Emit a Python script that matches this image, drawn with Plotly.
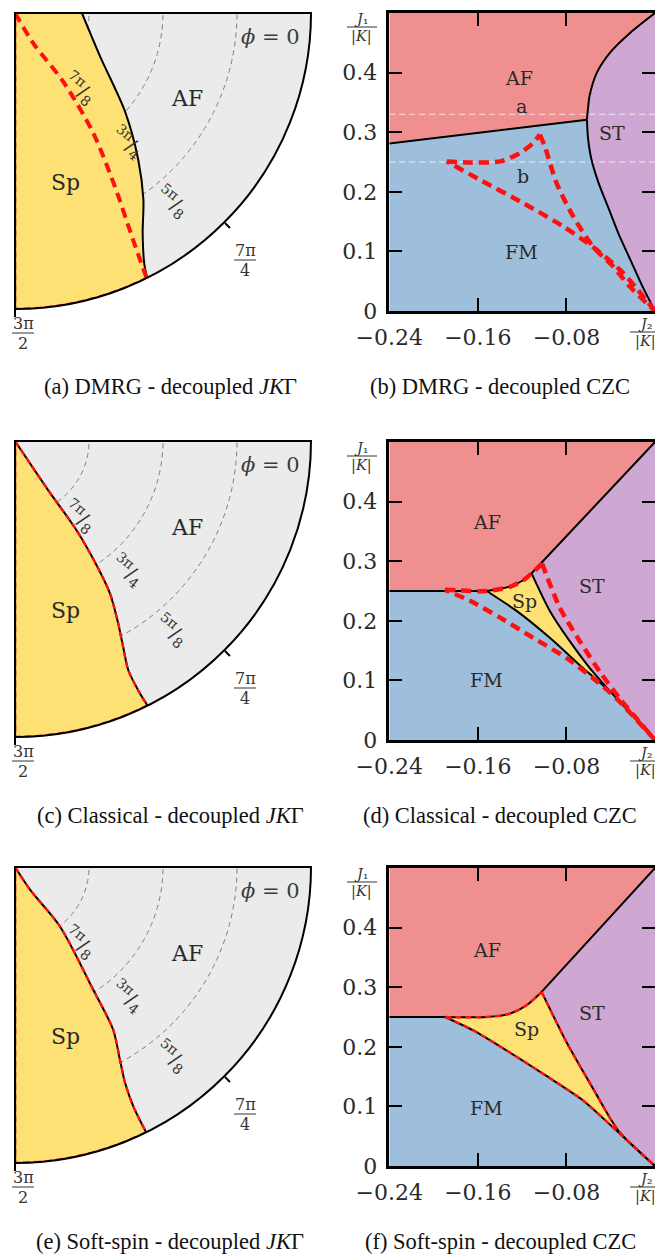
import numpy as np
import plotly.graph_objects as go

# page offset of the plot div (browser body margin) and figure size
OX, OY = 8, 8
W, H = 655, 1247

# ---------------- colours ----------------
AF_C = "#f08f8f"
FM_C = "#9dbfdc"
ST_C = "#cea8d2"
SP_C = "#fde174"
BG_C = "#ebebeb"
RED = "#ff1010"
TXT = "#2a2a2a"
SERIF = "DejaVu Serif"
CAPF = "Liberation Serif"

# ---------------- data: left column (polar) ----------------
# phi in degrees (270 = 3pi/2 ... 360 = 0), theta in units of pi (1 = centre, 1/2 = outer arc)
A_SP_PHI = [360, 332.8, 318.1, 310.0, 304.5, 300.1, 297.3, 296.5]
A_SP_TH = [0.887, 0.838, 0.750, 0.676, 0.617, 0.570, 0.524, 0.5]
A_RED_PHI = [301.0, 301.1, 305.1, 303.1, 299.9, 297.5, 296.4]
A_RED_TH = [1.0, 0.94, 0.858, 0.758, 0.661, 0.568, 0.5]

C_SP_PHI = [305.0, 304.0, 304.6, 303.3, 301.9, 299.5, 297.7, 296.3, 296.3, 296.6]
C_SP_TH = [1.0, 0.90, 0.817, 0.749, 0.696, 0.646, 0.607, 0.568, 0.53, 0.5]

E_SP_PHI = [303.5, 303.5, 307.1, 302.5, 301.1, 298.6, 297.0, 296.3, 296.3]
E_SP_TH = [1.0, 0.954, 0.874, 0.754, 0.679, 0.63, 0.59, 0.549, 0.5]

GRID_TH = [7 / 8, 3 / 4, 5 / 8]
GRID_LAB = ["7π", "3π", "5π"]
GRID_DEN = ["8", "4", "8"]
ANG_TICKS = [270, 315]

# ---------------- data: right column (J2/|K|, J1/|K|) ----------------
# (b) DMRG
B_AFFM_X = [-0.24, -0.0615]
B_AFFM_Y = [0.281, 0.321]
B_STU_X = [-0.0615, -0.0605, -0.0591, -0.0525, -0.0404, -0.0223, 0.0]
B_STU_Y = [0.321, 0.340, 0.361, 0.400, 0.434, 0.467, 0.5]
B_STL_X = [-0.0615, -0.0605, -0.0575, -0.051, -0.0425, -0.033, -0.022, -0.011, 0.0]
B_STL_Y = [0.321, 0.29, 0.255, 0.215, 0.175, 0.13, 0.085, 0.04, 0.0]
B_RT_X = [-0.188, -0.167, -0.140, -0.122, -0.110, -0.104]
B_RT_Y = [0.251, 0.249, 0.251, 0.265, 0.282, 0.296]
B_RR_X = [-0.104, -0.0995, -0.089, -0.074, -0.056, -0.038, -0.0228, 0.0]
B_RR_Y = [0.296, 0.276, 0.215, 0.159, 0.108, 0.075, 0.041, 0.0]
B_RL_X = [0.0, -0.0289, -0.0529, -0.083, -0.119, -0.158, -0.1852, -0.188]
B_RL_Y = [0.0, 0.064, 0.103, 0.142, 0.181, 0.220, 0.248, 0.251]
B_CUTS = [0.33, 0.25]
B_CUT_LAB = ["a", "b"]

# (d) classical
D_AFFM_X = [-0.24, -0.152]
D_AFFM_Y = [0.25, 0.25]
D_AFSP_X = [-0.152, -0.132, -0.119, -0.1115]
D_AFSP_Y = [0.25, 0.257, 0.268, 0.2797]
D_AFST_X = [-0.1115, 0.0]
D_AFST_Y = [0.2797, 0.5]
D_SPST_X = [-0.1115, -0.095, -0.077, -0.0589, -0.0405]
D_SPST_Y = [0.2797, 0.2166, 0.1658, 0.1207, 0.0815]
D_SPFM_X = [-0.152, -0.125, -0.095, -0.065, -0.0405]
D_SPFM_Y = [0.25, 0.2166, 0.1714, 0.1207, 0.0815]
D_FMST_X = [-0.0405, 0.0]
D_FMST_Y = [0.0815, 0.0]
D_RT_X = [-0.1897, -0.152, -0.131, -0.119, -0.1105, -0.102]
D_RT_Y = [0.252, 0.250, 0.257, 0.268, 0.281, 0.296]
D_RR_X = [-0.102, -0.086, -0.068, -0.050, -0.032, 0.0]
D_RR_Y = [0.296, 0.222, 0.166, 0.115, 0.070, 0.0]
D_RL_X = [0.0, -0.0349, -0.056, -0.080, -0.110, -0.140, -0.167, -0.1897]
D_RL_Y = [0.0, 0.0699, 0.1037, 0.1376, 0.1714, 0.2054, 0.2335, 0.252]

# (f) soft-spin
F_AFFM_X = [-0.24, -0.1897]
F_AFFM_Y = [0.25, 0.25]
F_AFSP_X = [-0.1897, -0.152, -0.131, -0.116, -0.1024]
F_AFSP_Y = [0.25, 0.25, 0.2556, 0.2697, 0.2921]
F_AFST_X = [-0.1024, 0.0]
F_AFST_Y = [0.2921, 0.5]
F_SPST_X = [-0.1024, -0.0800, -0.0557, -0.0330, 0.0]
F_SPST_Y = [0.2921, 0.2080, 0.1290, 0.0590, 0.0]
F_SPFM_X = [-0.1897, -0.1641, -0.134, -0.1009, -0.0647, -0.0346, 0.0]
F_SPFM_Y = [0.25, 0.2275, 0.1938, 0.1545, 0.1096, 0.059, 0.0]

X_TICKS = [-0.24, -0.16, -0.08]
X_TICKTEXT = ["−0.24", "−0.16", "−0.08"]
Y_TICKS = [0.0, 0.1, 0.2, 0.3, 0.4]
Y_TICKTEXT = ["0", "0.1", "0.2", "0.3", "0.4"]

CAPTIONS_L = ["(a) DMRG - decoupled <i>JK</i>Γ",
              "(c) Classical - decoupled <i>JK</i>Γ",
              "(e) Soft-spin - decoupled <i>JK</i>Γ"]
CAPTIONS_R = ["(b) DMRG - decoupled CZC",
              "(d) Classical - decoupled CZC",
              "(f) Soft-spin - decoupled CZC"]

# ---------------- geometry (page pixels) ----------------
ROWS_L = [13, 441, 867]      # pixel y of polar centre
ROWS_R = [13, 442, 868]      # pixel y of top of cartesian frame
CX, RPX = 15, 296
XR0, XR1, PH = 389.3, 655.0, 298


def px(x):
    return (x - OX) / W


def py(y):
    return 1 - (y - OY) / H


fig = go.Figure()
annotations = []
shapes = []


def ann(text, xp, yp, size, color=TXT, family=SERIF, angle=0, yanchor="middle", **kw):
    annotations.append(dict(text=text, x=px(xp), y=py(yp), xref="paper", yref="paper",
                            showarrow=False, xanchor="center", yanchor=yanchor,
                            textangle=angle, font=dict(family=family, size=size, color=color), **kw))


def frac(num, den, xc, ybar, size, width, color="#333"):
    ann(num, xc, ybar - 0.58 * size, size, color=color)
    ann(den, xc, ybar + 0.66 * size, size, color=color)
    shapes.append(dict(type="line", xref="paper", yref="paper", x0=px(xc - width / 2),
                       x1=px(xc + width / 2), y0=py(ybar), y1=py(ybar),
                       line=dict(color=color, width=1)))


def dann(text, x, y, k, size=19, color=TXT):
    annotations.append(dict(text=text, x=x, y=y, xref=f"x{k}", yref=f"y{k}", showarrow=False,
                            xanchor="center", yanchor="middle",
                            font=dict(family=SERIF, size=size, color=color)))


def rr(th):
    return [1.0 - t for t in th]


def edge_arc(p0, p1, n=40):
    return list(np.linspace(p0, p1, n))


def join(*parts):
    xs, ys = [], []
    for a, b in parts:
        xs += list(a)
        ys += list(b)
    return xs, ys


def rev(a, b):
    return list(a)[::-1], list(b)[::-1]


# ---------------- left column ----------------
left_sets = [(A_SP_PHI, A_SP_TH), (C_SP_PHI, C_SP_TH), (E_SP_PHI, E_SP_TH)]
layout_upd = {}
for i, (phi, th) in enumerate(left_sets):
    T = ROWS_L[i]
    pn = "polar" if i == 0 else f"polar{i + 1}"
    layout_upd[pn] = dict(
        domain=dict(x=[px(CX), px(CX + RPX)], y=[py(T + RPX), py(T)]),
        sector=[270, 360], bgcolor=BG_C,
        angularaxis=dict(direction="counterclockwise", rotation=0, showline=True, linecolor="black",
                         linewidth=2, showgrid=False, ticks="outside", tickvals=ANG_TICKS, ticklen=7,
                         tickwidth=2, tickcolor="black", showticklabels=False, layer="above traces"),
        radialaxis=dict(range=[0, 0.5], showline=False, showticklabels=False, ticks="",
                        tickvals=rr(GRID_TH), showgrid=True, gridcolor="#7f7f7f", griddash="5px,4px",
                        gridwidth=1.4, layer="above traces"),
    )
    r = rr(th)
    arc = edge_arc(phi[-1], 270)
    fig.add_trace(go.Scatterpolar(r=r + [0.5] * len(arc) + [0.0], theta=list(phi) + arc + [270],
                                  fill="toself", fillcolor=SP_C, mode="lines", line=dict(width=0),
                                  subplot=pn, hoverinfo="skip"))
    for ang in (360, 270):
        fig.add_trace(go.Scatterpolar(r=[0, 0.5], theta=[ang, ang], mode="lines",
                                      line=dict(color="black", width=2.2), subplot=pn,
                                      cliponaxis=False, hoverinfo="skip"))
    fig.add_trace(go.Scatterpolar(r=r, theta=phi, mode="lines",
                                  line=dict(color="black", width=2, shape="spline", smoothing=0.8),
                                  subplot=pn, hoverinfo="skip"))
    red_arc = edge_arc(A_RED_PHI[-1] if i == 0 else phi[-1], 270)
    fig.add_trace(go.Scatterpolar(r=[0.5] * len(red_arc) + [0.0], theta=red_arc + [270], mode="lines",
                                  line=dict(color=RED, width=2.6, dash="7px,4px"), subplot=pn,
                                  cliponaxis=False, hoverinfo="skip"))
    if i == 0:
        fig.add_trace(go.Scatterpolar(r=rr(A_RED_TH), theta=A_RED_PHI, mode="lines",
                                      line=dict(color=RED, width=4, dash="10px,6px", shape="spline",
                                                smoothing=0.8),
                                      subplot=pn, hoverinfo="skip"))
    else:
        fig.add_trace(go.Scatterpolar(r=r, theta=phi, mode="lines",
                                      line=dict(color=RED, width=2.4, dash="6px,4px", shape="spline",
                                                smoothing=0.8),
                                      subplot=pn, hoverinfo="skip"))
    # labels
    ann("<i>ϕ</i> = 0", CX + 255, T + 24, 21, color="#3c3c3c")
    ann("AF", CX + 172, T + 86, 22)
    ann("Sp", CX + 50, T + 169, 22)
    for (dx, dy), num, den in zip([(65, 75), (113, 129), (157, 189)], GRID_LAB, GRID_DEN):
        ann(f"<sup>{num}</sup>/<sub>{den}</sub>", CX + dx, T + dy, 20, color="#333", angle=38)
    frac("7π", "4", CX + 230, T + 247, 16, 22)
    frac("3π", "2", CX + 8, T + 320, 16, 22)
    ann(CAPTIONS_L[i], 170, ROWS_R[i] + 373, 22.5, color="#111", family=CAPF)

# ---------------- right column ----------------


def fill(xy, color, k):
    fig.add_trace(go.Scatter(x=xy[0], y=xy[1], fill="toself", fillcolor=color, mode="lines",
                             line=dict(width=0), xaxis=f"x{k}", yaxis=f"y{k}", hoverinfo="skip"))


def line(x, y, k, color="black", width=2, dash=None, spline=False):
    fig.add_trace(go.Scatter(x=x, y=y, mode="lines", xaxis=f"x{k}", yaxis=f"y{k}",
                             line=dict(color=color, width=width, dash=dash,
                                       shape="spline" if spline else "linear", smoothing=0.7),
                             cliponaxis=False, hoverinfo="skip"))


# (b)
k = 1
fill(join(([-0.24], [0.5]), (B_AFFM_X, B_AFFM_Y), (B_STU_X, B_STU_Y)), AF_C, k)
fill(join(([-0.24, 0.0], [0.0, 0.0]), rev(B_STL_X, B_STL_Y), rev(B_AFFM_X, B_AFFM_Y)), FM_C, k)
fill(join((B_STU_X, B_STU_Y), rev(B_STL_X, B_STL_Y)), ST_C, k)
for yc in B_CUTS:
    line([-0.24, 0.0], [yc, yc], k, color="rgba(255,255,255,0.75)", width=1.1, dash="6px,4px")
line(B_AFFM_X, B_AFFM_Y, k)
line(B_STU_X, B_STU_Y, k, spline=True)
line(B_STL_X, B_STL_Y, k, spline=True)
for sx, sy in [(B_RT_X, B_RT_Y), (B_RR_X, B_RR_Y), (B_RL_X, B_RL_Y)]:
    line(sx, sy, k, color=RED, width=4.5, dash="10px,6px", spline=True)
dann("AF", -0.1226, 0.3915, k)
dann("ST", -0.0391, 0.2991, k)
dann("FM", -0.121, 0.0986, k)
dann(B_CUT_LAB[0], -0.1205, 0.344, k)
dann(B_CUT_LAB[1], -0.1196, 0.2264, k)

# (d)
k = 2
fill(join(([-0.24], [0.5]), (D_AFFM_X, D_AFFM_Y), (D_AFSP_X, D_AFSP_Y), (D_AFST_X, D_AFST_Y)), AF_C, k)
fill(join((D_AFST_X, D_AFST_Y), rev(D_FMST_X, D_FMST_Y), rev(D_SPST_X, D_SPST_Y)), ST_C, k)
fill(join(([-0.24], [0.0]), rev(D_FMST_X, D_FMST_Y), rev(D_SPFM_X, D_SPFM_Y), rev(D_AFFM_X, D_AFFM_Y)), FM_C, k)
fill(join((D_AFSP_X, D_AFSP_Y), (D_SPST_X, D_SPST_Y), rev(D_SPFM_X, D_SPFM_Y)), SP_C, k)
line(D_AFFM_X, D_AFFM_Y, k)
line(D_AFSP_X, D_AFSP_Y, k, spline=True)
line(D_AFST_X, D_AFST_Y, k)
line(D_SPST_X, D_SPST_Y, k, spline=True)
line(D_SPFM_X, D_SPFM_Y, k, spline=True)
line(D_FMST_X, D_FMST_Y, k)
for sx, sy in [(D_RT_X, D_RT_Y), (D_RR_X, D_RR_Y), (D_RL_X, D_RL_Y)]:
    line(sx, sy, k, color=RED, width=4.5, dash="10px,6px", spline=True)
dann("AF", -0.152, 0.366, k)
dann("Sp", -0.1175, 0.2336, k)
dann("ST", -0.0572, 0.259, k)
dann("FM", -0.152, 0.101, k)

# (f)
k = 3
fill(join(([-0.24], [0.5]), (F_AFFM_X, F_AFFM_Y), (F_AFSP_X, F_AFSP_Y), (F_AFST_X, F_AFST_Y)), AF_C, k)
fill(join((F_AFST_X, F_AFST_Y), rev(F_SPST_X, F_SPST_Y)), ST_C, k)
fill(join(([-0.24], [0.0]), rev(F_SPFM_X, F_SPFM_Y), rev(F_AFFM_X, F_AFFM_Y)), FM_C, k)
fill(join((F_AFSP_X, F_AFSP_Y), (F_SPST_X, F_SPST_Y), rev(F_SPFM_X, F_SPFM_Y)), SP_C, k)
line(F_AFFM_X, F_AFFM_Y, k)
line(F_AFST_X, F_AFST_Y, k)
for sx, sy in [(F_AFSP_X, F_AFSP_Y), (F_SPST_X, F_SPST_Y), (F_SPFM_X, F_SPFM_Y)]:
    line(sx, sy, k, spline=True)
    line(sx, sy, k, color=RED, width=2.4, dash="6px,4px", spline=True)
dann("AF", -0.152, 0.362, k)
dann("Sp", -0.116, 0.230, k)
dann("ST", -0.0572, 0.2567, k)
dann("FM", -0.152, 0.098, k)

for i in range(3):
    k = i + 1
    T = ROWS_R[i]
    xa = "xaxis" if k == 1 else f"xaxis{k}"
    ya = "yaxis" if k == 1 else f"yaxis{k}"
    common = dict(ticks="inside", ticklen=13, tickwidth=2, tickcolor="black", showline=True,
                  linecolor="black", linewidth=2.5, mirror="ticks", showgrid=False, zeroline=False,
                  tickfont=dict(family=SERIF, size=22, color=TXT), fixedrange=True,
                  ticklabelstandoff=5, automargin=False)
    layout_upd[xa] = dict(domain=[px(XR0), px(XR1)], range=[-0.24, 0.0], anchor=f"y{k}",
                          tickvals=X_TICKS, ticktext=X_TICKTEXT, **common)
    layout_upd[ya] = dict(domain=[py(T + PH), py(T)], range=[0.0, 0.5], anchor=f"x{k}",
                          tickvals=Y_TICKS, ticktext=Y_TICKTEXT, **common)
    frac("<i>J</i>₁", "|<i>K</i>|", 362, T + 14, 14.5, 30)
    frac("<i>J</i>₂", "|<i>K</i>|", 645, T + PH + 21, 14.5, 30)
    ann(CAPTIONS_R[i], 500, T + 373, 22.5, color="#111", family=CAPF)

fig.update_layout(width=W, height=H,
                  margin=dict(l=0, r=0, t=0, b=0, pad=0, autoexpand=False), showlegend=False,
                  paper_bgcolor="white", plot_bgcolor="white", annotations=annotations,
                  shapes=shapes, **layout_upd)
fig.write_html("out.html")
